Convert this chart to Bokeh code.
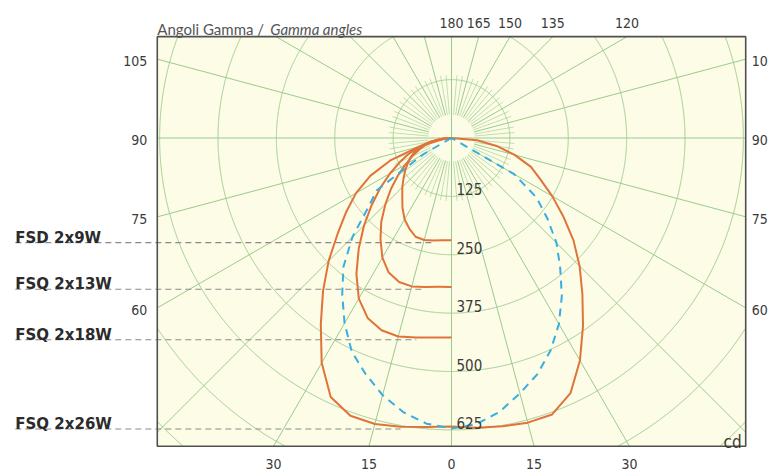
import numpy as np
from bokeh.plotting import figure
from bokeh.models import Range1d
from bokeh.core.properties import value
from bokeh.embed import file_html
from bokeh.resources import INLINE

# ---------------- data (cd, gamma in degrees) ----------------
gamma = [0, 5, 10, 15, 20, 25, 30, 35, 40, 45, 50, 55, 60, 65, 70, 75, 80, 85, 90]

# FSQ 2x26W, orange plane (both halves)
fsq26_orange_left = [618, 621, 628, 634, 633, 612, 556, 488, 428, 372, 318, 275, 236, 192, 138, 72, 25, 8, 0]
fsq26_orange_right = [618, 623, 627, 631, 630, 603, 550, 491, 436, 388, 341, 292, 249, 210, 181, 140, 98, 55, 0]
# FSQ 2x26W, blue dashed plane (both halves)
fsq26_blue_left = [622, 614, 596, 570, 538, 505, 458, 408, 360, 300, 234, 195, 70, 0, 0, 0, 0, 0, 0]
fsq26_blue_right = [622, 615, 595, 566, 538, 502, 460, 412, 362, 318, 268, 222, 155, 0, 0, 0, 0, 0, 0]
# smaller lamps, left half only
fsq18_left = [427, 429, 434, 440, 438, 425, 397, 355, 309, 265, 223, 186, 152, 122, 96, 70, 45, 20, 0]
fsq13_left = [319, 320, 324, 329, 328, 318, 296, 265, 234, 200, 169, 140, 114, 93, 74, 58, 38, 18, 0]
fsd9_left = [219, 220, 223, 226, 225, 214, 201, 183, 164, 149, 134, 121, 108, 96, 83, 68, 46, 24, 0]

lamp_labels = ["FSD 2x9W", "FSQ 2x13W", "FSQ 2x18W", "FSQ 2x26W"]
lamp_curves = [fsd9_left, fsq13_left, fsq18_left, fsq26_orange_left]

radial_labels = [125, 250, 375, 500, 625]
grid_radii = [125, 250, 375, 500, 625, 750, 875]

top_gamma = [180, 165, 150, 135, 120]          # right half, top edge
side_gamma = [105, 90, 75, 60]                  # both sides
bottom_gamma = [(-1, 30), (-1, 15), (1, 0), (1, 15), (1, 30)]

title_a = "Angoli Gamma / "
title_b = "Gamma angles"
unit_label = "cd"

# ---------------- geometry / layout ----------------
XMIN, XMAX, YMIN, YMAX = -630.0, 630.0, -660.0, 217.0   # diagram box (cd)
S = 0.467                     # px per cd
W, H = 768, 474
CX, CY = 451.0, 137.5         # canvas position of the origin

ORANGE = "#E0733A"
BLUE = "#37AEE0"
GREEN = "#9ACB8E"
TXT = "#3a3a3a"
NARROW = value("DejaVu Sans Condensed, DejaVu Sans")

p = figure(width=W, height=H,
           x_range=Range1d(-CX / S, (W - CX) / S),
           y_range=Range1d(-(H - CY) / S, CY / S),
           output_backend="svg", toolbar_location=None, min_border=0,
           x_axis_location=None, y_axis_location=None)
p.grid.visible = False
p.outline_line_color = None
p.background_fill_color = "white"
p.border_fill_color = "white"


def polar_xy(gam, r, side):
    g = np.radians(np.asarray(gam, float))
    r = np.asarray(r, float)
    return side * r * np.sin(g), -r * np.cos(g)


def ray_len(dx, dy):
    ts = []
    if dx > 1e-9: ts.append(XMAX / dx)
    if dx < -1e-9: ts.append(XMIN / dx)
    if dy > 1e-9: ts.append(YMAX / dy)
    if dy < -1e-9: ts.append(YMIN / dy)
    return min(ts)


# box background
p.quad(left=[XMIN], right=[XMAX], bottom=[YMIN], top=[YMAX],
       fill_color="#FDFCE6", line_color=None)

# grid circles (clipped to box)
gx, gy = [], []
th = np.linspace(0, 2 * np.pi, 2881)
for R in grid_radii:
    x = R * np.cos(th)
    y = R * np.sin(th)
    inside = (x >= XMIN) & (x <= XMAX) & (y >= YMIN) & (y <= YMAX)
    run = []
    for i in range(len(th)):
        if inside[i]:
            run.append(i)
        else:
            if len(run) > 1:
                gx.append(list(x[run])); gy.append(list(y[run]))
            run = []
    if len(run) > 1:
        gx.append(list(x[run])); gy.append(list(y[run]))

# spokes every 15 degrees (axes pass through the centre)
sx, sy = [], []
for g in range(0, 181, 5):
    for side in (1, -1):
        if g in (0, 180) and side == -1:
            continue
        dx, dy = side * np.sin(np.radians(g)), -np.cos(np.radians(g))
        if g % 15 == 0:
            r0 = 0.0 if g in (0, 90, 180) else 50.0
            gx.append([r0 * dx, ray_len(dx, dy) * dx]); gy.append([r0 * dy, ray_len(dx, dy) * dy])
        else:
            sx.append([50.0 * dx, 135.0 * dx]); sy.append([50.0 * dy, 135.0 * dy])

p.multi_line(gx, gy, line_color=GREEN, line_width=1)
p.multi_line(sx, sy, line_color=GREEN, line_width=1, line_alpha=0.6)

# leader lines
lx, ly = [], []
for curve in lamp_curves:
    yl = -curve[0] - 5
    xe = -curve[2] * np.sin(np.radians(gamma[2]))
    lx.append([-934, xe]); ly.append([yl, yl])
p.multi_line(lx, ly, line_color="#8a8a8a", line_width=1.1, line_dash="6 4")

# curves
xl, yl_ = polar_xy(gamma, fsq26_orange_left, -1)
xr, yr = polar_xy(gamma, fsq26_orange_right, 1)
p.line(np.concatenate([xl[::-1], xr]), np.concatenate([yl_[::-1], yr]),
       line_color=ORANGE, line_width=2, line_join="round")
for c in (fsq18_left, fsq13_left, fsd9_left):
    x, y = polar_xy(gamma, c, -1)
    p.line(x, y, line_color=ORANGE, line_width=2, line_join="round")

xl, yl_ = polar_xy(gamma, fsq26_blue_left, -1)
xr, yr = polar_xy(gamma, fsq26_blue_right, 1)
p.line(np.concatenate([xl[::-1], xr]), np.concatenate([yl_[::-1], yr]),
       line_color=BLUE, line_width=2, line_dash="8 6")

# box border
p.quad(left=[XMIN], right=[XMAX], bottom=[YMIN], top=[YMAX],
       fill_color=None, line_color="#505050", line_width=1.6)

# radial value labels
p.text(x=[0] * len(radial_labels), y=[-r for r in radial_labels],
       text=[str(r) for r in radial_labels], x_offset=5, y_offset=-1,
       text_font=NARROW, text_font_size="15px", text_color=TXT,
       text_align="left", text_baseline="bottom")

# gamma labels: top
tx = []
for g in top_gamma:
    dx, dy = np.sin(np.radians(g)), -np.cos(np.radians(g))
    tx.append(dx * ray_len(dx, dy))
p.text(x=tx, y=[YMAX] * len(tx), text=[str(g) for g in top_gamma], y_offset=-14,
       text_font=NARROW, text_font_size="14px", text_color=TXT,
       text_align="center", text_baseline="middle")

# sides
for side, align, xo in ((1, "left", 6), (-1, "right", -10)):
    ys = []
    for g in side_gamma:
        dx, dy = side * np.sin(np.radians(g)), -np.cos(np.radians(g))
        ys.append(dy * ray_len(dx, dy))
    p.text(x=[XMAX if side == 1 else XMIN] * len(ys), y=ys,
           text=[str(g) for g in side_gamma], x_offset=xo, y_offset=2,
           text_font=NARROW, text_font_size="14px", text_color=TXT,
           text_align=align, text_baseline="middle")

# bottom
bx = []
for side, g in bottom_gamma:
    dx, dy = side * np.sin(np.radians(g)), -np.cos(np.radians(g))
    bx.append(dx * ray_len(dx, dy))
p.text(x=bx, y=[YMIN] * len(bx), text=[str(g) for _, g in bottom_gamma], y_offset=18,
       text_font=NARROW, text_font_size="14px", text_color=TXT,
       text_align="center", text_baseline="middle")

# unit
p.text(x=[XMAX], y=[YMIN], text=[unit_label], x_offset=-4, y_offset=-4,
       text_font=NARROW, text_font_size="17px", text_color=TXT,
       text_align="right", text_baseline="alphabetic")

# title
p.text(x=[XMIN], y=[YMAX], text=[title_a], y_offset=-8,
       text_font=value("Lato"), text_font_size="15px", text_color="#555555",
       text_align="left", text_baseline="alphabetic")
p.text(x=[XMIN + 113 / S], y=[YMAX], text=[title_b], y_offset=-8,
       text_font=value("Lato"), text_font_size="15px", text_font_style="italic",
       text_color="#555555", text_align="left", text_baseline="alphabetic")

# lamp labels
p.text(x=[-934] * len(lamp_labels), y=[-c[0] - 5 for c in lamp_curves], text=lamp_labels,
       y_offset=-5, text_font=value("DejaVu Sans"), text_font_size="15px",
       text_font_style="bold", text_color="#2b2b2b",
       text_align="left", text_baseline="alphabetic")

open("out.html", "w").write(file_html(p, INLINE))
